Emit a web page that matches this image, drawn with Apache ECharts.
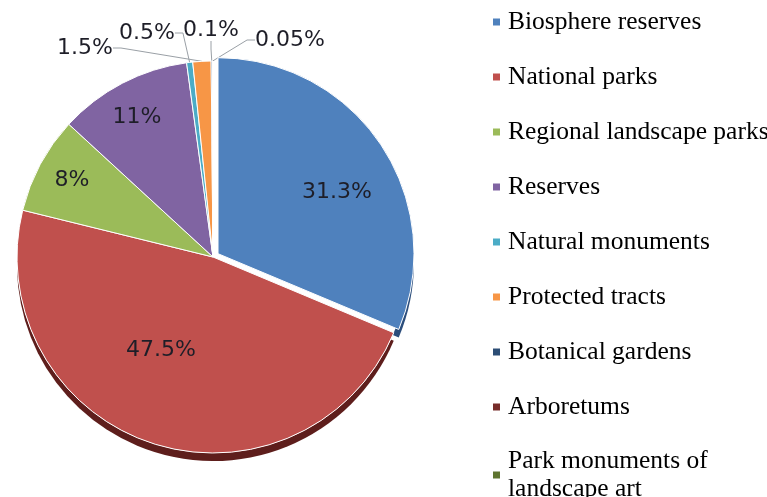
<!DOCTYPE html>
<html><head><meta charset="utf-8">
<script src="https://cdn.jsdelivr.net/npm/echarts@6/dist/echarts.min.js"></script>
<style>html,body{margin:0;padding:0;background:#fff}#c{width:767px;height:497px}</style>
</head><body><div id="c"></div>
<script>
// Data
const categories = ['Biosphere reserves','National parks','Regional landscape parks','Reserves','Natural monuments','Protected tracts','Botanical gardens','Arboretums','Park monuments of landscape art'];
const shares = [31.3, 47.5, 8, 11, 0.5, 1.5, 0.1, 0.05, 0];

// Styles
const colors = ['#4F81BD','#C0504D','#9BBB59','#8064A2','#4BACC6','#F79646','#2C4D75','#772C2A','#5F7530'];
const depthColors = ['#2C4E7C','#5E1E1C','#5F7530','#4E3A66','#2E7F96','#B4661F','#1A2F48','#4A1A19','#3A4A1D'];
const labelPos = [[337,192],[161,350],[72,180],[137,117],[147,33],[85,48],[211,30],[290,40],null];

const chart = echarts.init(document.getElementById('c'), null, {renderer:'canvas'});
const center = [213, 257];
const explodeShift = [5, -3.3];
const depth = 8;
const radius = 196;
const EXPLODED = 0; // Biosphere reserves slice pulled out
const restValue = shares.reduce((a,b)=>a+b,0) - shares[EXPLODED];

const labelCfg = {
  show:true, position:'outside', formatter:'{c}%',
  fontFamily:'DejaVu Sans', fontSize:22, color:'#1e1e28'
};
const layoutFn = function(p){
  const pos = labelPos[p.dataIndex];
  if(!pos) return {};
  return {x:pos[0], y:pos[1], align:'center', verticalAlign:'middle'};
};
const hidden = {color:'rgba(0,0,0,0)', borderWidth:0};

const explodeData = [
  {name:categories[EXPLODED], value:shares[EXPLODED], itemStyle:{color:colors[EXPLODED]}, labelLine:{show:false}},
  {name:'', value:restValue, itemStyle:hidden, label:{show:false}, labelLine:{show:false}}
];
const explodeDepthData = [
  {name:categories[EXPLODED], value:shares[EXPLODED], itemStyle:{color:depthColors[EXPLODED]}},
  {name:'', value:restValue, itemStyle:hidden}
];
const mainData = categories.map((n,i)=>({
  name:n, value:shares[i],
  itemStyle: i===EXPLODED ? hidden : {color:colors[i]},
  label:{show: shares[i] > 0 && i !== EXPLODED},
  labelLine:{show: i >= 4 && shares[i] > 0}
}));
const depthData = categories.map((n,i)=>({
  name:n, value:shares[i],
  itemStyle: i===EXPLODED ? hidden : {color:depthColors[i]}
}));

const common = {type:'pie', radius:radius, startAngle:90, clockwise:true, emphasis:{disabled:true}, avoidLabelOverlap:false};

chart.setOption({
  animation:false,
  backgroundColor:'#fff',
  legend:{
    orient:'vertical', left:493, top:8, padding:0, height:600,
    itemWidth:7, itemHeight:7, itemGap:27, icon:'rect',
    data:categories, selectedMode:false,
    itemStyle:{borderWidth:0},
    textStyle:{fontFamily:'Liberation Serif', fontSize:25.5, lineHeight:28, height:28, color:'#000', padding:[0,0,0,3]},
    formatter: n => n.replace(' of ', ' of\n')
  },
  series:[
    Object.assign({}, common, {
      name:'explode', z:5,
      center:[center[0]+explodeShift[0], center[1]+explodeShift[1]],
      itemStyle:{borderColor:'#fff', borderWidth:1},
      label:labelCfg, labelLine:{show:false},
      labelLayout: layoutFn,
      data:explodeData
    }),
    Object.assign({}, common, {
      name:'main', z:4,
      center:center,
      itemStyle:{borderColor:'#fff', borderWidth:1},
      label:labelCfg,
      labelLine:{show:true, length:8, length2:8, lineStyle:{color:'#9aa0a6', width:1}},
      labelLayout: layoutFn,
      data:mainData
    }),
    Object.assign({}, common, {
      name:'face', z:3, silent:true, legendHoverLink:false,
      center:center,
      label:{show:false}, labelLine:{show:false},
      data:[{name:'', value:1, itemStyle:{color:'#fff'}}]
    }),
    Object.assign({}, common, {
      name:'depthExplode', z:2, silent:true, legendHoverLink:false,
      center:[center[0]+explodeShift[0], center[1]+explodeShift[1]+depth],
      label:{show:false}, labelLine:{show:false},
      data:explodeDepthData
    }),
    Object.assign({}, common, {
      name:'depth', z:1, silent:true, legendHoverLink:false,
      center:[center[0], center[1]+depth],
      label:{show:false}, labelLine:{show:false},
      data:depthData
    })
  ]
});
</script>
</body></html>
